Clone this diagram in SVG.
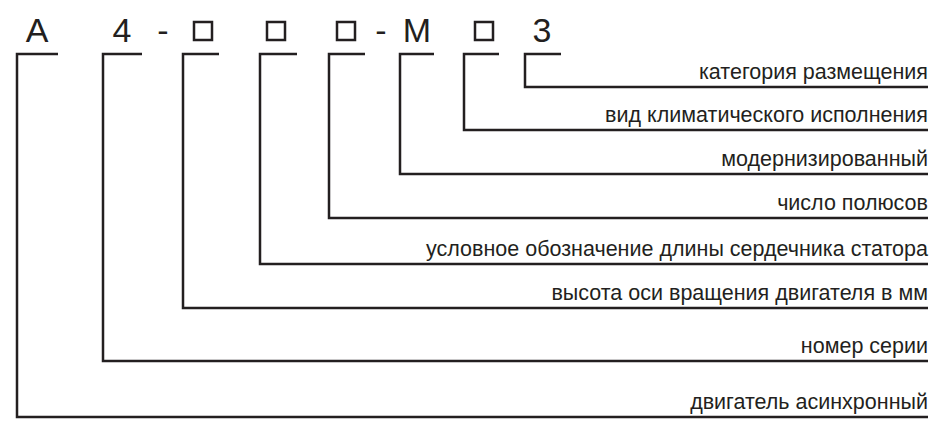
<svg xmlns="http://www.w3.org/2000/svg" width="945" height="438" viewBox="0 0 945 438">
<style>
.c{font-family:"Liberation Sans",Arial,sans-serif;font-size:34px;fill:#231f20;text-anchor:middle}
.bx{fill:none;stroke:#231f20;stroke-width:2.5}
.l{font-family:"Liberation Sans",Arial,sans-serif;font-size:21.5px;fill:#231f20;text-anchor:end}
.w{fill:none;stroke:#231f20;stroke-width:2.5}
</style>
<rect width="945" height="438" fill="#fff"/>
<g id="code">
<text class="c" x="37" y="42">A</text>
<text class="c" x="122" y="42">4</text>
<text class="c" x="163" y="42">-</text>
<rect class="bx" x="194" y="22" width="18" height="18"/>
<rect class="bx" x="267" y="22" width="18" height="18"/>
<rect class="bx" x="337" y="22" width="18" height="18"/>
<text class="c" x="381" y="42">-</text>
<text class="c" x="417" y="42">M</text>
<rect class="bx" x="475" y="22" width="18" height="18"/>
<text class="c" x="542" y="42">3</text>
</g>
<g id="connectors" class="w">
<path d="M58 54H17V417H928"/>
<path d="M142 54H103V361H928"/>
<path d="M219 54H183V308H928"/>
<path d="M297 54H260V264H928"/>
<path d="M365 54H329V218H928"/>
<path d="M434 54H400V174H928"/>
<path d="M499 54H464V130H928"/>
<path d="M561 54H525V87H928"/>
</g>
<g id="labels">
<text class="l" x="928" y="79">категория размещения</text>
<text class="l" x="928" y="122">вид климатического исполнения</text>
<text class="l" x="928" y="166">модернизированный</text>
<text class="l" x="928" y="210">число полюсов</text>
<text class="l" x="928" y="256">условное обозначение длины сердечника статора</text>
<text class="l" x="928" y="300">высота оси вращения двигателя в мм</text>
<text class="l" x="928" y="353">номер серии</text>
<text class="l" x="928" y="409">двигатель асинхронный</text>
</g>
</svg>
